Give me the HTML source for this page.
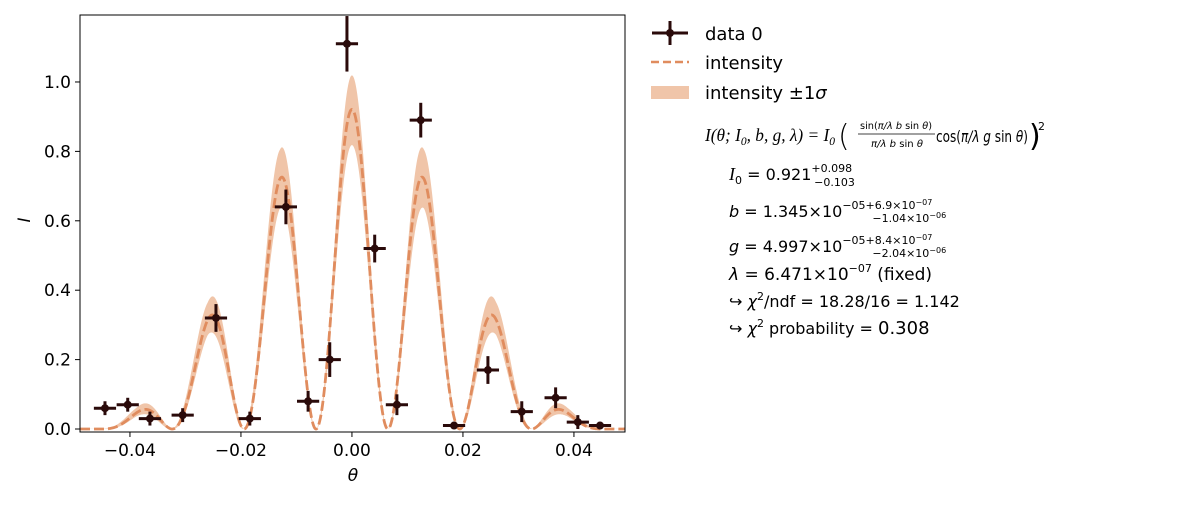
<!DOCTYPE html>
<html><head><meta charset="utf-8"><style>
body{margin:0;background:#fff;}
svg{font-family:"DejaVu Sans","Liberation Sans",sans-serif;}
</style></head><body>
<svg id="c" width="1200" height="500" xmlns="http://www.w3.org/2000/svg">
<g id="plot"></g>
<g font-size="18">
 <g>
  <line x1="652" y1="33" x2="688" y2="33" stroke="#2a0a0a" stroke-width="3"/>
  <line x1="670" y1="21" x2="670" y2="45" stroke="#2a0a0a" stroke-width="3"/>
  <circle cx="670" cy="33" r="4" fill="#2a0a0a"/>
  <text x="705" y="40">data 0</text>
 </g>
 <g>
  <line x1="651" y1="62" x2="689" y2="62" stroke="#e08c5e" stroke-width="2.5" stroke-dasharray="8,4"/>
  <text x="705" y="69">intensity</text>
 </g>
 <g>
  <rect x="651" y="86" width="38" height="13" fill="#f0c5a9"/>
  <text x="705" y="99">intensity ±1<tspan font-style="italic">σ</tspan></text>
 </g>
</g>
<g font-size="16">
 <text x="705" y="141" font-family="Liberation Serif, serif" font-style="italic" font-size="18" textLength="130" lengthAdjust="spacingAndGlyphs">I(θ; I<tspan font-size="12" dy="4">0</tspan><tspan dy="-4">, b, g, λ) = I</tspan><tspan font-size="12" dy="4">0</tspan></text>
 <text x="838" y="146" font-size="30" font-weight="lighter">(</text>
 <text x="860" y="129" font-size="10" textLength="72" lengthAdjust="spacingAndGlyphs">sin(<tspan font-style="italic">π/λ b</tspan> sin <tspan font-style="italic">θ</tspan>)</text>
 <line x1="858" y1="134" x2="935" y2="134" stroke="#000" stroke-width="0.8"/>
 <text x="871" y="147" font-size="10" textLength="52" lengthAdjust="spacingAndGlyphs"><tspan font-style="italic">π/λ b</tspan> sin <tspan font-style="italic">θ</tspan></text>
 <text x="936" y="142" font-size="16" textLength="92" lengthAdjust="spacingAndGlyphs">cos(<tspan font-style="italic">π/λ g</tspan> sin <tspan font-style="italic">θ</tspan>)</text>
 <text x="1029" y="146" font-size="30">)</text>
 <text x="1038" y="130" font-size="11">2</text>
 <text x="729" y="180"><tspan font-style="italic" font-family="Liberation Serif, serif" font-size="18">I</tspan><tspan font-size="11" dy="4">0</tspan><tspan dy="-4"> = 0.921</tspan><tspan font-size="11" dy="-8">+0.098</tspan><tspan font-size="11" dx="-38" dy="14">−0.103</tspan></text>
 <text x="729" y="217"><tspan font-style="italic">b</tspan> = 1.345×10<tspan font-size="11" dy="-8">−05</tspan><tspan font-size="11">+6.9×10</tspan><tspan font-size="8" dy="-4">−07</tspan><tspan font-size="11" dx="-60" dy="17">−1.04×10</tspan><tspan font-size="8" dy="-4">−06</tspan></text>
 <text x="729" y="252"><tspan font-style="italic">g</tspan> = 4.997×10<tspan font-size="11" dy="-8">−05</tspan><tspan font-size="11">+8.4×10</tspan><tspan font-size="8" dy="-4">−07</tspan><tspan font-size="11" dx="-60" dy="17">−2.04×10</tspan><tspan font-size="8" dy="-4">−06</tspan></text>
 <text x="729" y="280" font-size="17"><tspan font-style="italic">λ</tspan> = 6.471×10<tspan font-size="11" dy="-8">−07</tspan><tspan dy="8"> (fixed)</tspan></text>
 <text x="729" y="307">↪ <tspan font-style="italic">χ</tspan><tspan font-size="11" dy="-7">2</tspan><tspan dy="7">/ndf = 18.28/16 = 1.142</tspan></text>
 <text x="729" y="334">↪ <tspan font-style="italic">χ</tspan><tspan font-size="11" dy="-7">2</tspan><tspan dy="7"> probability = </tspan><tspan font-size="18">0.308</tspan></text>
</g>
</svg>
<script>
const dataX=[-0.0445,-0.0404,-0.0364,-0.0305,-0.0245,-0.0184,-0.0119,-0.0079,-0.0040,-0.0009,0.0041,0.0081,0.0124,0.0184,0.0245,0.0306,0.0367,0.0407,0.0447];
const dataY=[0.06,0.07,0.03,0.04,0.32,0.03,0.64,0.08,0.20,1.11,0.52,0.07,0.89,0.01,0.17,0.05,0.09,0.02,0.01];
const dataYErr=[0.02,0.02,0.02,0.02,0.04,0.02,0.05,0.03,0.05,0.08,0.04,0.03,0.05,0.01,0.04,0.03,0.03,0.02,0.01];
const dataXErr=[0.002,0.002,0.002,0.002,0.002,0.002,0.002,0.002,0.002,0.002,0.002,0.002,0.002,0.002,0.002,0.002,0.002,0.002,0.002];
const params=[0.921,1.345e-5,4.997e-5,6.471e-7];
const paramsUp=[0.098,6.9e-7,8.4e-7];
const paramsDn=[0.103,1.04e-6,2.04e-6];
const xTicks=[-0.04,-0.02,0.00,0.02,0.04];
const xTickLabels=["−0.04","−0.02","0.00","0.02","0.04"];
const yTicks=[0,0.2,0.4,0.6,0.8,1.0];
const yTickLabels=["0.0","0.2","0.4","0.6","0.8","1.0"];
const L=80,R=625,T=15,B=432, xmin=-0.0490, xmax=0.0492, ymin=-0.0086, ymax=1.193;
const sx=v=>L+(v-xmin)/(xmax-xmin)*(R-L);
const sy=v=>B-(v-ymin)/(ymax-ymin)*(B-T);
const NS="http://www.w3.org/2000/svg";
const g=document.getElementById('plot');
function mk(t,a,p){const e=document.createElementNS(NS,t);for(const k in a)e.setAttribute(k,a[k]);(p||g).appendChild(e);return e;}
function model(th,I0,b,gg){const l=params[3];const s=Math.sin(th);const u=Math.PI/l*b*s;const sc=Math.abs(u)<1e-9?1:Math.sin(u)/u;const c=Math.cos(Math.PI/l*gg*s);return I0*Math.pow(sc*c,2);}
const defs=mk('defs',{});const cp=mk('clipPath',{id:'cp'},defs);mk('rect',{x:L,y:T,width:R-L,height:B-T},cp);
const bOpts=[params[1]-paramsDn[1]*0.25,params[1],params[1]+paramsUp[1]*0.25];
const gOpts=[params[2]-paramsDn[2]*0.2,params[2],params[2]+paramsUp[2]*0.2];
const N=1000;let up=[],lo=[],mid=[];
for(let i=0;i<=N;i++){const th=xmin+(xmax-xmin)*i/N;let mx=-1,mn=9;
 for(const b of bOpts)for(const gg of gOpts){const v=model(th,1,b,gg);if(v>mx)mx=v;if(v<mn)mn=v;}
 up.push(sx(th)+','+sy(mx*(params[0]+paramsUp[0])));lo.push(sx(th)+','+sy(mn*(params[0]-paramsDn[0])));
 mid.push(sx(th)+','+sy(model(th,params[0],params[1],params[2])));}
const band=mk('polygon',{points:up.concat(lo.reverse()).join(' '),fill:'#f0c5a9','clip-path':'url(#cp)'});


const line=mk('polyline',{points:mid.join(' '),fill:'none',stroke:'#e08c5e','stroke-width':2.8,'stroke-dasharray':'10,4','clip-path':'url(#cp)'});


for(let i=0;i<dataX.length;i++){
 const pg=mk('g',{});
 
 
 const x=sx(dataX[i]),y=sy(dataY[i]);
 mk('line',{x1:sx(dataX[i]-dataXErr[i]),x2:sx(dataX[i]+dataXErr[i]),y1:y,y2:y,stroke:'#2a0a0a','stroke-width':3},pg);
 mk('line',{x1:x,x2:x,y1:sy(dataY[i]-dataYErr[i]),y2:sy(dataY[i]+dataYErr[i]),stroke:'#2a0a0a','stroke-width':3},pg);
 mk('circle',{cx:x,cy:y,r:4,fill:'#2a0a0a'},pg);
}
const fr=mk('rect',{x:L,y:T,width:R-L,height:B-T,fill:'none',stroke:'#000','stroke-width':1});


xTicks.forEach((v,i)=>{const x=sx(v);mk('line',{x1:x,x2:x,y1:B,y2:B+5,stroke:'#000'});
 const t=mk('text',{x:x,y:B+24,'text-anchor':'middle','font-size':17});t.textContent=xTickLabels[i];
 
 });
yTicks.forEach((v,i)=>{const y=sy(v);mk('line',{x1:L-5,x2:L,y1:y,y2:y,stroke:'#000'});
 const t=mk('text',{x:L-9,y:y+6,'text-anchor':'end','font-size':17});t.textContent=yTickLabels[i];
 
 });
const xt=mk('text',{x:353,y:481,'text-anchor':'middle','font-size':17,'font-style':'italic'});xt.textContent='θ';


const yt=mk('text',{x:0,y:0,'text-anchor':'middle','font-size':17,'font-style':'italic',transform:'translate(30,220) rotate(-90)'});yt.textContent='I';


</script>
</body></html>
